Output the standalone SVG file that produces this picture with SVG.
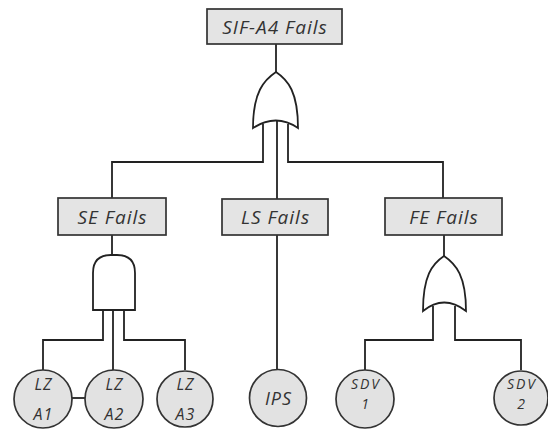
<svg xmlns="http://www.w3.org/2000/svg" width="548" height="429" viewBox="0 0 548 429">
<style>
.box{fill:#e4e4e4;stroke:#333;stroke-width:1.7}
.circ{fill:#e2e2e2;stroke:#333;stroke-width:1.7}
.gate{fill:#ffffff;stroke:#222;stroke-width:1.8}
.con{fill:none;stroke:#222;stroke-width:1.8}
.lbl{font-family:"Open Sans","DejaVu Sans",sans-serif;font-style:italic;font-size:19px;letter-spacing:1px;fill:#333;text-anchor:middle}
.sm{font-family:"Open Sans","DejaVu Sans",sans-serif;font-style:italic;font-size:16px;letter-spacing:1px;fill:#333;text-anchor:middle}
.sdv{font-family:"Open Sans","DejaVu Sans",sans-serif;font-style:italic;font-size:14px;letter-spacing:2px;fill:#333;text-anchor:middle}
.ips{font-family:"Open Sans","DejaVu Sans",sans-serif;font-style:italic;font-size:18px;letter-spacing:1px;fill:#333;text-anchor:middle}
</style>
<rect width="548" height="429" fill="#ffffff"/>
<g id="connectors">
<path class="con" d="M276,44 V74"/>
<path class="con" d="M263,124 V162 H112 V199"/>
<path class="con" d="M277,118 V199"/>
<path class="con" d="M288,124 V162 H443 V198"/>
<path class="con" d="M112,235 V256"/>
<path class="con" d="M277,235 V370"/>
<path class="con" d="M444,235 V257"/>
<path class="con" d="M103,308 V340 H43 V370"/>
<path class="con" d="M113,308 V370"/>
<path class="con" d="M124,308 V340 H185 V370"/>
<path class="con" d="M72,398 H85"/>
<path class="con" d="M433,306 V340 H365 V370"/>
<path class="con" d="M455,306 V340 H521 V370"/>
</g>
<g id="gate-or-top">
<path class="gate" d="M276,72 C288,80 298,92 298,128 Q276,113 253,128 C253,92 264,80 276,72 Z"/>
</g>
<g id="gate-and-se">
<path class="gate" d="M93,310 V273 Q93,255 111,255 H117 Q135,255 135,273 V310 Z"/>
</g>
<g id="gate-or-fe">
<path class="gate" d="M444,256 C456,264 466,276 466,311 Q444,294 423,311 C423,276 432,264 444,256 Z"/>
</g>
<g id="sif-a4">
<rect class="box" x="207" y="9" width="135" height="35"/>
<text class="lbl" x="275" y="34">SIF-A4 Fails</text>
</g>
<g id="se">
<rect class="box" x="58" y="198" width="108" height="37"/>
<text class="lbl" x="112.5" y="224">SE Fails</text>
</g>
<g id="ls">
<rect class="box" x="222" y="199" width="106" height="36"/>
<text class="lbl" x="275.5" y="224">LS Fails</text>
</g>
<g id="fe">
<rect class="box" x="385" y="198" width="117" height="37"/>
<text class="lbl" x="444" y="224">FE Fails</text>
</g>
<g id="lz-a1">
<circle class="circ" cx="43" cy="399" r="29"/>
<text class="sm" x="43.5" y="390">LZ</text>
<text class="sm" x="43.5" y="420">A1</text>
</g>
<g id="lz-a2">
<circle class="circ" cx="114" cy="399" r="29"/>
<text class="sm" x="114.5" y="390">LZ</text>
<text class="sm" x="114.5" y="420">A2</text>
</g>
<g id="lz-a3">
<circle class="circ" cx="185" cy="399" r="28"/>
<text class="sm" x="185.5" y="390">LZ</text>
<text class="sm" x="185.5" y="420">A3</text>
</g>
<g id="ips">
<circle class="circ" cx="278" cy="398" r="28.5"/>
<text class="ips" x="278.5" y="405">IPS</text>
</g>
<g id="sdv1">
<circle class="circ" cx="365" cy="399" r="29"/>
<text class="sdv" x="366" y="389">SDV</text>
<text class="sdv" x="366" y="409">1</text>
</g>
<g id="sdv2">
<circle class="circ" cx="521" cy="398" r="27"/>
<text class="sdv" x="522" y="389">SDV</text>
<text class="sdv" x="522" y="409">2</text>
</g>
</svg>
